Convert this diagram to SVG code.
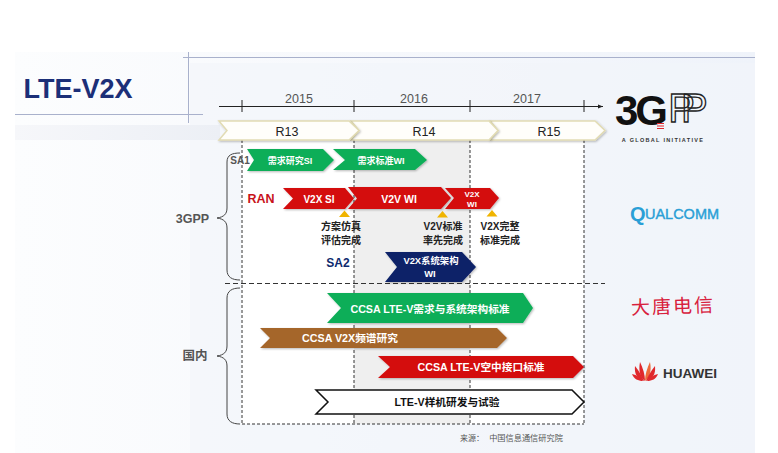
<svg xmlns="http://www.w3.org/2000/svg" width="778" height="453" viewBox="0 0 778 453">
<style>
text{font-family:"Liberation Sans","Noto Sans CJK SC",sans-serif;text-anchor:middle}
.b{font-weight:bold}
.w{fill:#fff;font-weight:bold}
.k{fill:#222;font-weight:bold;font-size:10px}
.g{fill:#555}
.dash{stroke:#333;stroke-width:1;stroke-dasharray:3 2;fill:none}
.brace{fill:none;stroke:#444;stroke-width:1}
.tri{fill:#f0b400}
.rel{fill:#fffefa;stroke:#e2dcb4;stroke-width:1.500}
.s{filter:url(#sh)}
</style>
<defs>
<linearGradient id="bg" x1="0" y1="0" x2="1" y2="0"><stop offset="0" stop-color="#fcfdfe"/><stop offset="0.5" stop-color="#f6f8fc"/><stop offset="1" stop-color="#eff3fa"/></linearGradient>
<linearGradient id="band" x1="0" y1="0" x2="1" y2="0"><stop offset="0" stop-color="#f6f7fa"/><stop offset="1" stop-color="#eceff5"/></linearGradient>
<filter id="sh" x="-5%" y="-15%" width="112%" height="135%"><feDropShadow dx="1" dy="1" stdDeviation="0.8" flood-color="#000" flood-opacity="0.28"/></filter>
<marker id="arr" markerWidth="6" markerHeight="6" refX="5" refY="3" orient="auto"><path d="M0 1L5 3L0 5z" fill="#222"/></marker>
</defs>
<rect width="778" height="453" fill="#fff"/>
<rect x="15" y="52" width="740" height="401" fill="url(#bg)"/>
<rect x="190" y="63" width="565" height="390" fill="#f2f5fa" fill-opacity="0.6"/>
<rect x="15" y="125" width="205" height="15" fill="url(#band)"/>
<rect x="241" y="140" width="343" height="284" fill="#fff"/>
<rect x="354" y="140" width="116" height="284" fill="#efefef"/>
<g id="frame" stroke="#a9b1cc" stroke-width="1" fill="none">
<path d="M183 57.500H755M15 114.500H203M188.500 52V123"/>
</g>
<g id="title"><text x="78" y="98" class="b" font-size="27" fill="#1c2f78">LTE-V2X</text></g>

<g id="connectors">
<path d="M219 106.500H603" stroke="#222" marker-end="url(#arr)"/>
<path d="M242 100V112M354 100V112M470 100V112M584 100V112" stroke="#222"/>
<path class="dash" d="M242 140V424M354 140V424M470 140V424M584 140V424M242 424H584"/>
<path d="M225 283.500H605" stroke="#333" stroke-dasharray="5 3" fill="none"/>
<path class="brace" d="M240 153C232 153 227 155 227 162V208C227 214 224 217 217 218C224 219 227 222 227 228V270C227 277 232 280 240 280"/>
<path class="brace" d="M240 288C232 288 227 291 227 298V346C227 352 224 355 217 356C224 357 227 360 227 366V414C227 421 232 424 240 424"/>
</g>

<g id="y2015"><text x="299" y="103" font-size="12.500" class="g">2015</text></g>
<g id="y2016"><text x="414" y="103" font-size="12.500" class="g">2016</text></g>
<g id="y2017"><text x="527" y="103" font-size="12.500" class="g">2017</text></g>

<g id="R15"><path class="rel s" d="M490 121H595L605 130.500L595 140H490L498 130.500z"/><text x="549" y="135.500" font-size="12.500" fill="#222">R15</text></g>
<g id="R14"><path class="rel s" d="M351 121H489L498 130.500L489 140H351L359 130.500z"/><text x="424" y="135.500" font-size="12.500" fill="#222">R14</text></g>
<g id="R13"><path class="rel s" d="M219 121H349L359 130.500L349 140H219L227 130.500z"/><text x="287" y="135.500" font-size="12.500" fill="#222">R13</text></g>

<g id="label-SA1"><text x="240" y="164" font-size="10" class="b" fill="#555">SA1</text></g>
<g id="node-xqyj"><path class="s" fill="#0fae58" d="M247 149H323L334 160L323 171H247L254 160z"/><text x="290" y="163.500" font-size="9" class="w">需求研究SI</text></g>
<g id="node-xqbz"><path class="s" fill="#0fae58" d="M333 149H415L427 160L415 170H333L345 160z"/><text x="381" y="163.500" font-size="9" class="w">需求标准WI</text></g>

<g id="label-RAN"><text x="261" y="203" font-size="12.500" class="b" fill="#c8121a">RAN</text></g>
<g id="node-v2xsi"><path class="s" fill="#d40a10" d="M283 188H345L354 198.500L345 209H283L293 198.500z"/><text x="319" y="202.500" font-size="10" class="w">V2X SI</text></g>
<g id="node-v2vwi"><path class="s" fill="#d40a10" d="M348 187H441L451 198L441 209H348L357 198.500z"/><text x="399" y="202.500" font-size="10.500" class="w">V2V WI</text></g>
<g id="node-v2xwi"><path class="s" fill="#d40a10" d="M445 188H490L499 198L490 209H445L454 198z"/><text x="472" y="197" font-size="8" class="w">V2X</text><text x="472" y="207" font-size="8" class="w">WI</text></g>

<g id="mark-1"><path class="tri" d="M344.500 210.500L350 217H339z"/><text x="341" y="229.500" class="k">方案仿真</text><text x="341" y="244" class="k">评估完成</text></g>
<g id="mark-2"><path class="tri" d="M442.500 211L448 217.500H437z"/><text x="443" y="230" class="k">V2V标准</text><text x="443" y="244" class="k">率先完成</text></g>
<g id="mark-3"><path class="tri" d="M492 210L497.500 216.500H486.500z"/><text x="500" y="229.500" class="k">V2X完整</text><text x="500" y="244" class="k">标准完成</text></g>

<g id="label-SA2"><text x="338" y="267" font-size="12" class="b" fill="#0e2a6e">SA2</text></g>
<g id="node-v2xarch"><path class="s" fill="#0b2168" d="M385 252H462L476 267L462 282H385L397 267z"/><text x="431" y="264" font-size="9.400" class="w">V2X系统架构</text><text x="430" y="277" font-size="9.400" class="w">WI</text></g>

<g id="label-3GPP"><text x="192.500" y="222.500" font-size="12.500" class="b" fill="#555">3GPP</text></g>
<g id="label-CN"><text x="195" y="360" font-size="12.500" class="b" fill="#555">国内</text></g>

<g id="node-ccsa1"><path class="s" fill="#0fae58" d="M327 293H523L533 308L523 323H327L341 308z"/><text x="430" y="312.500" font-size="10.700" class="w">CCSA LTE-V需求与系统架构标准</text></g>
<g id="node-ccsa2"><path class="s" fill="#a5662a" d="M260 328H497L507 338L497 348H260L270 338z"/><text x="350" y="342" font-size="10.700" class="w">CCSA V2X频谱研究</text></g>
<g id="node-ccsa3"><path class="s" fill="#d40a10" d="M378 356H573L584 367L573 378H378L390 367z"/><text x="481" y="371" font-size="10.700" class="w">CCSA LTE-V空中接口标准</text></g>
<g id="node-proto"><path fill="#fff" stroke="#111" stroke-width="1.500" d="M316 390H572L584 402L572 414H316L328 402z"/><text x="447" y="406" font-size="10.700" class="b" fill="#111">LTE-V样机研发与试验</text></g>

<g id="source"><text x="472" y="441" font-size="8" class="g">来源：</text><text x="526" y="441" font-size="8.200" class="g">中国信息通信研究院</text></g>

<g id="logo-3gpp">
<text x="640" y="125" font-size="42" class="b" fill="#111" letter-spacing="-3">3G</text>
<text x="681" y="122" font-size="40" fill="none" stroke="#222" stroke-width="1.300" letter-spacing="-14">PP</text>
<path d="M657 123.500h7M657 126h7M657 128.500h7" stroke="#e0282c" stroke-width="1.200"/>
<text x="663" y="142" font-size="5.500" class="b" fill="#333" letter-spacing="1.300">A GLOBAL INITIATIVE</text>
</g>
<g id="logo-qualcomm"><text x="630" y="221" font-size="20" class="b" fill="#2a9fd6" style="text-anchor:start">Q</text><text x="645" y="219" font-size="14" fill="#2a9fd6" stroke="#2a9fd6" stroke-width="0.400" style="text-anchor:start" textLength="74" lengthAdjust="spacingAndGlyphs">UALCOMM</text></g>
<g id="logo-datang"><text x="673" y="313" font-size="19" fill="#d8203c" letter-spacing="2" transform="rotate(-2 673 306)">大唐电信</text></g>
<g id="logo-huawei">
<g fill="#e0282c">
<path d="M645 381C641 378 638 372 640 362C643 368 645 375 645 381z"/>
<path d="M645 381C649 378 652 372 650 362C647 368 645 375 645 381z" fill="#ee6a3a"/>
<path d="M644 381C638 379 634 375 635 366C639 371 642 376 644 381z"/>
<path d="M646 381C652 379 656 375 655 366C651 371 648 376 646 381z"/>
<path d="M643 381C638 381 634 379 632 374C637 375 640 378 643 381z"/>
<path d="M647 381C652 381 656 379 658 374C653 375 650 378 647 381z"/>
</g>
<text x="690" y="378" font-size="13" class="b" fill="#333" textLength="54" lengthAdjust="spacingAndGlyphs">HUAWEI</text>
</g>
</svg>
